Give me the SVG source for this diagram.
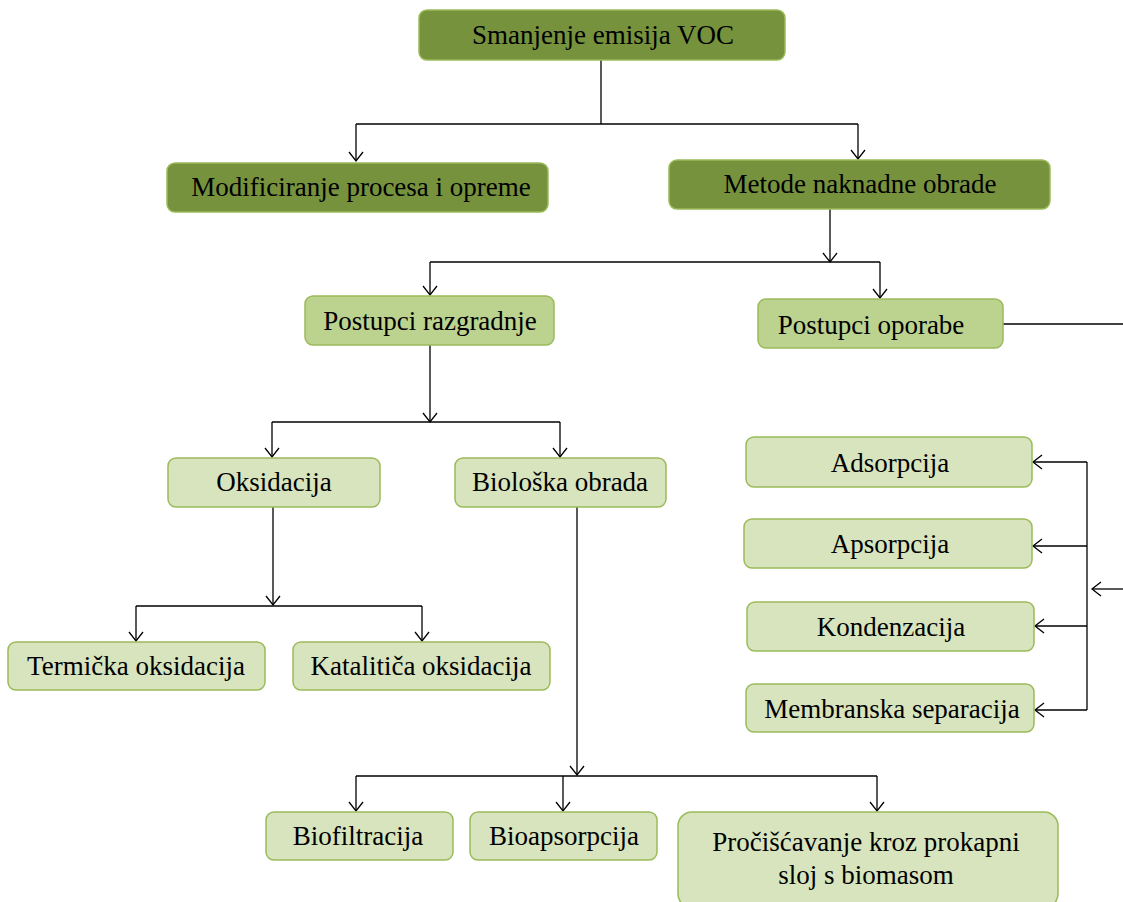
<svg xmlns="http://www.w3.org/2000/svg" width="1123" height="902" viewBox="0 0 1123 902">
<style>
.dark{fill:#76923C;stroke:#9BBB59;stroke-width:1.5}
.mid{fill:#BCD28F;stroke:#9BBB59;stroke-width:1.5}
.light{fill:#D7E4BD;stroke:#9BBB59;stroke-width:1.5}
.t{font-family:"Liberation Serif","Times New Roman",serif;font-size:27px;fill:#000;text-anchor:middle}
.c{fill:none;stroke:#000;stroke-width:1.3}
</style>
<defs>
<marker id="arr" markerUnits="userSpaceOnUse" markerWidth="20" markerHeight="20" refX="10" refY="10" orient="auto" viewBox="0 0 20 20">
<path d="M1,3 L10,10 L1,17" fill="none" stroke="#000" stroke-width="1.3"/>
</marker>
</defs>
<rect width="1123" height="902" fill="#fff"/>
<g id="connectors">
<path class="c" d="M601,60 V124"/>
<path class="c" d="M356,124 H858"/>
<path class="c" d="M356,124 V161" marker-end="url(#arr)"/>
<path class="c" d="M858,124 V159" marker-end="url(#arr)"/>
<path class="c" d="M830,209 V262" marker-end="url(#arr)"/>
<path class="c" d="M430,262 H880"/>
<path class="c" d="M430,262 V295" marker-end="url(#arr)"/>
<path class="c" d="M880,262 V298" marker-end="url(#arr)"/>
<path class="c" d="M1003,324 H1123"/>
<path class="c" d="M430,345 V422" marker-end="url(#arr)"/>
<path class="c" d="M272,422 H560"/>
<path class="c" d="M272,422 V457" marker-end="url(#arr)"/>
<path class="c" d="M560,422 V457" marker-end="url(#arr)"/>
<path class="c" d="M273,507 V605" marker-end="url(#arr)"/>
<path class="c" d="M136,606 H422"/>
<path class="c" d="M136,606 V641" marker-end="url(#arr)"/>
<path class="c" d="M422,606 V641" marker-end="url(#arr)"/>
<path class="c" d="M577,507 V775" marker-end="url(#arr)"/>
<path class="c" d="M356,776 H877"/>
<path class="c" d="M356,776 V811" marker-end="url(#arr)"/>
<path class="c" d="M563,776 V811" marker-end="url(#arr)"/>
<path class="c" d="M877,776 V811" marker-end="url(#arr)"/>
<path class="c" d="M1087,462 V710"/>
<path class="c" d="M1087,462 H1033" marker-end="url(#arr)"/>
<path class="c" d="M1087,546 H1033" marker-end="url(#arr)"/>
<path class="c" d="M1087,626 H1035" marker-end="url(#arr)"/>
<path class="c" d="M1087,710 H1035" marker-end="url(#arr)"/>
<path class="c" d="M1123,589 H1092" marker-end="url(#arr)"/>
</g>
<g id="nodes">
<g id="n-root"><rect class="dark" x="419" y="10" width="366" height="50" rx="8"/><text class="t" x="603" y="44">Smanjenje emisija VOC</text></g>
<g id="n-modif"><rect class="dark" x="167" y="163" width="381" height="49" rx="8"/><text class="t" x="361" y="196">Modificiranje procesa i opreme</text></g>
<g id="n-metode"><rect class="dark" x="669" y="160" width="381" height="49" rx="8"/><text class="t" x="860" y="193">Metode naknadne obrade</text></g>
<g id="n-razgr"><rect class="mid" x="305" y="296" width="249" height="49" rx="8"/><text class="t" x="430" y="330">Postupci razgradnje</text></g>
<g id="n-oporabe"><rect class="mid" x="758" y="299" width="245" height="49" rx="8"/><text class="t" x="871" y="334">Postupci oporabe</text></g>
<g id="n-oks"><rect class="light" x="168" y="458" width="212" height="49" rx="8"/><text class="t" x="274" y="491">Oksidacija</text></g>
<g id="n-bio"><rect class="light" x="455" y="458" width="211" height="49" rx="8"/><text class="t" x="560" y="491">Biološka obrada</text></g>
<g id="n-term"><rect class="light" x="8" y="642" width="257" height="48" rx="8"/><text class="t" x="136" y="675">Termička oksidacija</text></g>
<g id="n-kat"><rect class="light" x="293" y="642" width="257" height="48" rx="8"/><text class="t" x="421" y="675">Katalitiča oksidacija</text></g>
<g id="n-biofil"><rect class="light" x="266" y="812" width="187" height="48" rx="8"/><text class="t" x="358" y="845">Biofiltracija</text></g>
<g id="n-bioaps"><rect class="light" x="470" y="812" width="187" height="48" rx="8"/><text class="t" x="564" y="845">Bioapsorpcija</text></g>
<g id="n-proc"><rect class="light" x="678" y="812" width="380" height="96" rx="14"/><text class="t" x="866" y="851">Pročišćavanje kroz prokapni</text><text class="t" x="866" y="884">sloj s biomasom</text></g>
<g id="n-ads"><rect class="light" x="746" y="437" width="286" height="50" rx="8"/><text class="t" x="890" y="472">Adsorpcija</text></g>
<g id="n-aps"><rect class="light" x="744" y="519" width="288" height="49" rx="8"/><text class="t" x="890" y="553">Apsorpcija</text></g>
<g id="n-kond"><rect class="light" x="747" y="602" width="287" height="49" rx="8"/><text class="t" x="891" y="636">Kondenzacija</text></g>
<g id="n-memb"><rect class="light" x="746" y="684" width="288" height="48" rx="8"/><text class="t" x="892" y="718">Membranska separacija</text></g>
</g>
</svg>
